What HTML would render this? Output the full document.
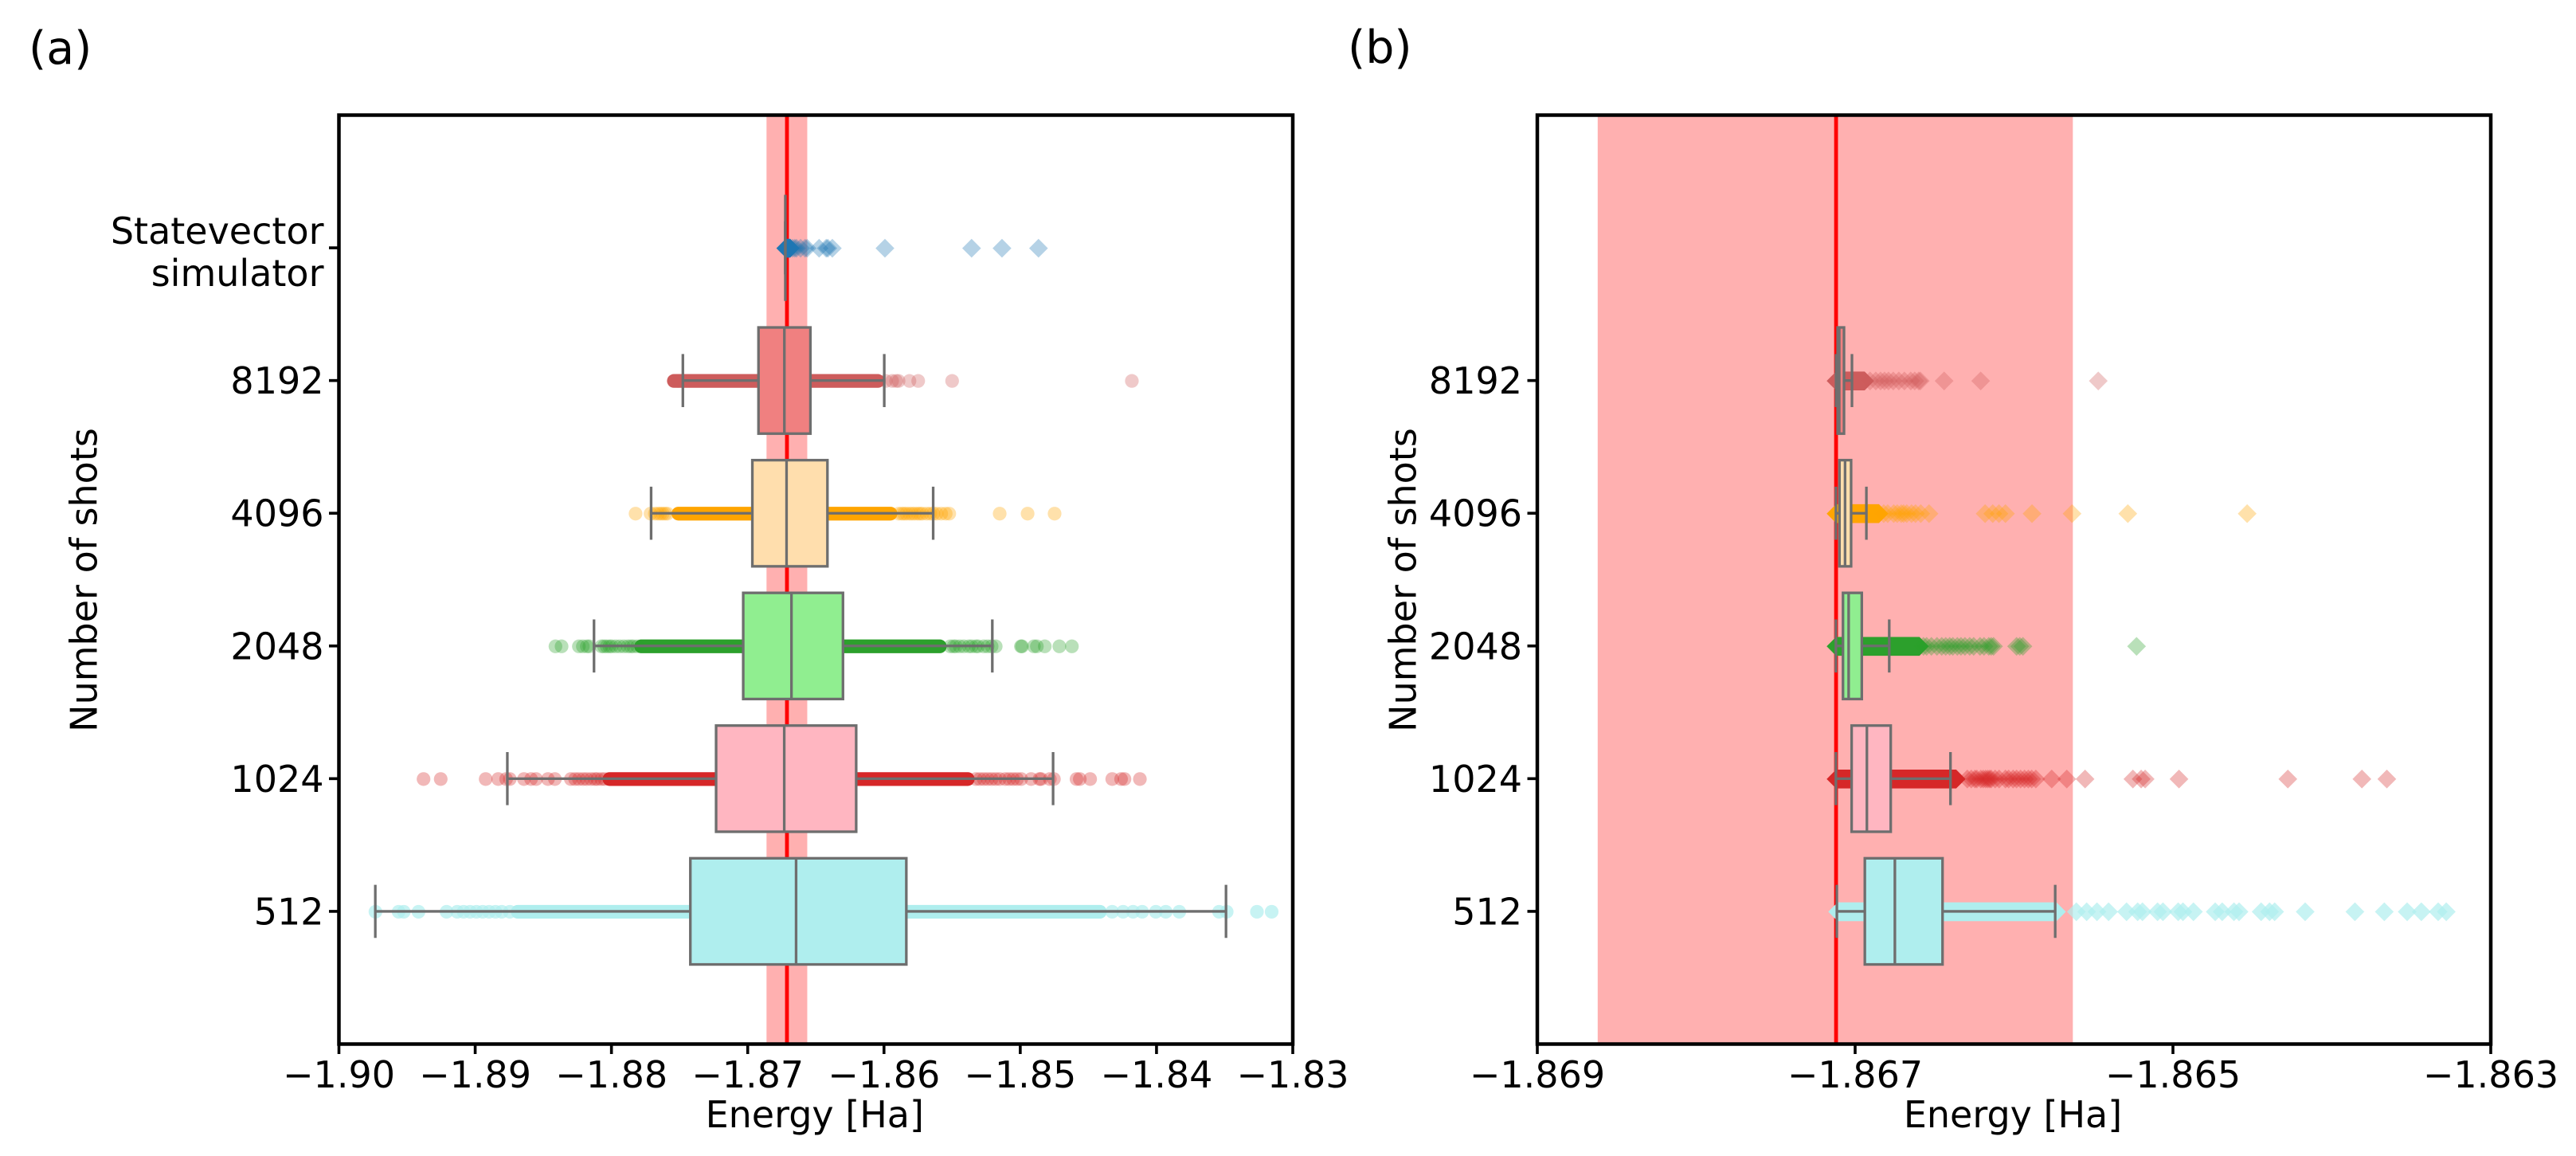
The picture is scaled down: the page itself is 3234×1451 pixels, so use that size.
<!DOCTYPE html>
<html lang="en">
<head>
<meta charset="utf-8">
<title>Energy distribution box plots</title>
<style>
  html, body { margin: 0; padding: 0; background: #ffffff; }
  svg { display: block; }
  text { font-family: "DejaVu Sans", "Liberation Sans", sans-serif; fill: #000000; }
</style>
</head>
<body>
<svg id="figure" xmlns="http://www.w3.org/2000/svg" width="3234" height="1451" viewBox="0 0 3234 1451">
  <rect x="0" y="0" width="3234" height="1451" fill="#ffffff"/>
  <text x="36" y="80" font-size="57">(a)</text>
  <text x="1692" y="79" font-size="57">(b)</text>
</svg>
<script>
// ---------- shared data ----------
const referenceEnergy = -1.86712;
const referenceBandLow = -1.86862;
const referenceBandHigh = -1.86563;
const shotNames = ["Statevector simulator", "8192", "4096", "2048", "1024", "512"];
const rowKeys = ["statevector", "8192", "4096", "2048", "1024", "512"];

// ---------- panel (a) data, Energy [Ha] ----------
const aTicks = [-1.90, -1.89, -1.88, -1.87, -1.86, -1.85, -1.84, -1.83];
const aRows = [0, 1, 2, 3, 4, 5];
const aQ1 = [-1.86724, -1.86921, -1.86966, -1.87033, -1.87232, -1.87421];
const aMedian = [-1.86724, -1.86731, -1.86715, -1.86679, -1.86732, -1.86645];
const aQ3 = [-1.86724, -1.86540, -1.86415, -1.86301, -1.86204, -1.85836];
const aWhiskerLow = [-1.86724, -1.87476, -1.87709, -1.88128, -1.88764, -1.89733];
const aWhiskerHigh = [-1.86724, -1.85998, -1.85639, -1.85205, -1.84759, -1.83490];
const aDenseLow = [-1.86721, -1.87542, -1.87509, -1.87782, -1.88015, -1.88688];
const aDenseHigh = [-1.86688, -1.86045, -1.85952, -1.85590, -1.85385, -1.84415];
const aOutliersStatevector = [-1.86671, -1.86655, -1.86642, -1.86612, -1.86579, -1.86564, -1.86476, -1.86424, -1.86412, -1.86379, -1.85993, -1.85357, -1.85134, -1.84866];
const aOutliers8192 = [-1.87510, -1.85987, -1.85940, -1.85911, -1.85893, -1.85813, -1.85749, -1.85500, -1.84181];
const aOutliers4096 = [-1.87823, -1.87713, -1.87682, -1.87659, -1.87641, -1.87624, -1.87606, -1.87589, -1.85893, -1.85870, -1.85853, -1.85835, -1.85813, -1.85794, -1.85775, -1.85753, -1.85736, -1.85718, -1.85687, -1.85660, -1.85638, -1.85613, -1.85580, -1.85547, -1.85521, -1.85151, -1.84946, -1.84748];
const aOutliers2048 = [-1.88411, -1.88366, -1.88239, -1.88210, -1.88181, -1.88162, -1.88074, -1.88055, -1.88035, -1.88015, -1.87998, -1.87969, -1.87940, -1.87910, -1.87881, -1.87859, -1.87840, -1.87811, -1.85514, -1.85490, -1.85473, -1.85444, -1.85414, -1.85378, -1.85356, -1.85326, -1.85309, -1.85268, -1.85239, -1.85210, -1.85180, -1.84995, -1.84987, -1.84900, -1.84878, -1.84820, -1.84713, -1.84621];
const aOutliers1024 = [-1.89379, -1.89253, -1.88923, -1.88831, -1.88773, -1.88746, -1.88642, -1.88590, -1.88553, -1.88466, -1.88415, -1.88298, -1.88267, -1.88239, -1.88208, -1.88181, -1.88150, -1.88122, -1.88103, -1.88074, -1.88050, -1.85326, -1.85297, -1.85268, -1.85239, -1.85210, -1.85180, -1.85151, -1.85110, -1.85081, -1.85052, -1.85023, -1.84993, -1.84920, -1.84859, -1.84847, -1.84783, -1.84753, -1.84587, -1.84563, -1.84487, -1.84325, -1.84260, -1.84235, -1.84122];
const aOutliers512 = [-1.89732, -1.89562, -1.89524, -1.89416, -1.89210, -1.89132, -1.89085, -1.89038, -1.88991, -1.88945, -1.88898, -1.88851, -1.88805, -1.88746, -1.84325, -1.84245, -1.84172, -1.84105, -1.84005, -1.83932, -1.83833, -1.83541, -1.83485, -1.83263, -1.83155];
const aOutliers = [aOutliersStatevector, aOutliers8192, aOutliers4096, aOutliers2048, aOutliers1024, aOutliers512];

// ---------- panel (b) data, Energy [Ha] ----------
const bTicks = [-1.869, -1.867, -1.865, -1.863];
const bRows = [1, 2, 3, 4, 5];
const bQ1 = [-1.86711, -1.8670985, -1.8670765, -1.867022, -1.866939];
const bMedian = [-1.86710, -1.8670635, -1.8670409, -1.866926, -1.86675];
const bQ3 = [-1.86707, -1.8670254, -1.8669582, -1.866776, -1.86645];
const bWhiskerLow = [-1.86712, -1.867121, -1.867121, -1.867121, -1.867115];
const bWhiskerHigh = [-1.86702, -1.8669292, -1.8667854, -1.8664, -1.865741];
const bDenseLow = [-1.86712, -1.86712, -1.86712, -1.86712, -1.86711];
const bDenseHigh = [-1.86694, -1.86685, -1.866595, -1.866364, -1.865733];
const bOutliers8192 = [-1.866906, -1.86687, -1.86684, -1.866815, -1.86679, -1.86676, -1.866725, -1.86669, -1.86665, -1.866625, -1.8666, -1.86659, -1.86644, -1.86621, -1.86547];
const bOutliers4096 = [-1.86682, -1.866795, -1.866757, -1.866735, -1.86671, -1.866695, -1.866675, -1.866645, -1.86662, -1.866587, -1.866535, -1.866182, -1.866134, -1.866095, -1.866054, -1.865887, -1.865635, -1.865284, -1.864533];
const bOutliers2048 = [-1.86657, -1.86655, -1.86652, -1.866485, -1.866455, -1.86643, -1.866405, -1.866385, -1.866357, -1.866334, -1.866309, -1.866279, -1.866254, -1.866214, -1.866189, -1.866159, -1.866144, -1.866129, -1.865984, -1.865964, -1.865944, -1.865229];
const bOutliers1024 = [-1.866294, -1.866269, -1.866246, -1.866234, -1.866209, -1.866194, -1.866179, -1.866166, -1.866154, -1.866144, -1.866119, -1.866094, -1.866054, -1.866034, -1.866006, -1.865984, -1.865959, -1.865934, -1.86591, -1.865889, -1.865863, -1.865763, -1.865668, -1.865553, -1.865252, -1.8652, -1.865175, -1.864962, -1.864277, -1.863811, -1.863654];
const bOutliers512 = [-1.865608, -1.865543, -1.865478, -1.865405, -1.865292, -1.865222, -1.865192, -1.865097, -1.865063, -1.864967, -1.864937, -1.864871, -1.864734, -1.86469, -1.864616, -1.864584, -1.864445, -1.864392, -1.86436, -1.864168, -1.863855, -1.86367, -1.863526, -1.863437, -1.863331, -1.86328];
const bOutliers = [bOutliers8192, bOutliers4096, bOutliers2048, bOutliers1024, bOutliers512];

// ---------- styles ----------
const boxFills = ["#1f77b4", "#f08080", "#ffdead", "#90ee90", "#ffb6c1", "#afeeee"];
const pointFills = ["#1f77b4", "#cd5c5c", "#ffa500", "#2ca02c", "#d62728", "#afeeee"];
const pointAlpha = [0.33, 0.33, 0.33, 0.33, 0.33, 0.7];
const GRAY = "#6e6e6e";
const LABEL_SIZE = 46;
const svg = document.getElementById("figure");
const SVGNS = "http://www.w3.org/2000/svg";

function make(parent, tag, attrs) {
  const el = document.createElementNS(SVGNS, tag);
  for (const k in attrs) el.setAttribute(k, attrs[k]);
  parent.appendChild(el);
  return el;
}
function minusText(v, digits) {
  return v.toFixed(digits).replace("-", "\u2212");
}

function drawPanel(p) {
  const g = make(svg, "g", {});
  
  

  const xScale = v => p.left + (v - p.xmin) / (p.xmax - p.xmin) * (p.right - p.left);
  const step = (p.bottom - p.top) / 7;
  const yScale = row => p.top + (row + 1) * step;

  // reference band and line
  const band = make(g, "rect", { x: xScale(referenceBandLow), y: p.top, width: xScale(referenceBandHigh) - xScale(referenceBandLow), height: p.bottom - p.top, fill: "#ffb0b0" });
  
  
  const refLine = make(g, "line", { x1: xScale(referenceEnergy), x2: xScale(referenceEnergy), y1: p.top, y2: p.bottom, stroke: "#ff0000", "stroke-width": 4.8 });
  
  

  // rows
  p.rows.forEach((row, i) => {
    const cy = yScale(row);
    const key = rowKeys[row];
    const diamond = p.diamonds || row === 0;
    const r = diamond ? 11.8 : 8.6;
    const ptY = cy + 0.5;

    const rowGroup = make(g, "g", {});
    
    

    // dense run of overlapping samples
    const dLo = xScale(p.denseLow[i]);
    const dHi = xScale(p.denseHigh[i]);
    let dense;
    if (diamond) {
      dense = make(rowGroup, "polygon", {
        points: [[dLo - r, ptY], [dLo, ptY - r], [dHi, ptY - r], [dHi + r, ptY], [dHi, ptY + r], [dLo, ptY + r]].map(a => a.join(",")).join(" "),
        fill: pointFills[row]
      });
    } else {
      dense = make(rowGroup, "rect", { x: dLo - r, y: ptY - r, width: dHi - dLo + 2 * r, height: 2 * r, rx: r, ry: r, fill: pointFills[row] });
    }
    
    

    // individual samples
    p.outliers[i].forEach(v => {
      const x = xScale(v);
      let mark;
      if (diamond) {
        mark = make(rowGroup, "polygon", {
          points: [[x - r, ptY], [x, ptY - r], [x + r, ptY], [x, ptY + r]].map(a => a.join(",")).join(" "),
          fill: pointFills[row], "fill-opacity": pointAlpha[row]
        });
      } else {
        mark = make(rowGroup, "circle", { cx: x, cy: ptY, r: r, fill: pointFills[row], "fill-opacity": pointAlpha[row] });
      }
      
      
    });

    // whiskers
    const halfBox = step * 0.4;
    const halfCap = step * 0.2;
    const xQ1 = xScale(p.q1[i]);
    const xQ3 = xScale(p.q3[i]);
    const xLo = xScale(p.whiskerLow[i]);
    const xHi = xScale(p.whiskerHigh[i]);
    const xMed = xScale(p.median[i]);

    const whiskLo = make(rowGroup, "line", { x1: xLo, x2: xQ1, y1: cy, y2: cy, stroke: GRAY, "stroke-width": 3.3 });
    
    
    const whiskHi = make(rowGroup, "line", { x1: xQ3, x2: xHi, y1: cy, y2: cy, stroke: GRAY, "stroke-width": 3.3 });
    
    
    const capLo = make(rowGroup, "line", { x1: xLo, x2: xLo, y1: cy - halfCap, y2: cy + halfCap, stroke: GRAY, "stroke-width": 3.3 });
    
    
    const capHi = make(rowGroup, "line", { x1: xHi, x2: xHi, y1: cy - halfCap, y2: cy + halfCap, stroke: GRAY, "stroke-width": 3.3 });
    
    

    // box + median
    const box = make(rowGroup, "rect", { x: xQ1, y: cy - halfBox, width: Math.max(xQ3 - xQ1, 0), height: 2 * halfBox, fill: boxFills[row], stroke: GRAY, "stroke-width": 3.3 });
    
    
    const med = make(rowGroup, "line", { x1: xMed, x2: xMed, y1: cy - halfBox, y2: cy + halfBox, stroke: GRAY, "stroke-width": 3.3 });
    
    
  });

  // frame
  const frame = make(g, "rect", { x: p.left, y: p.top, width: p.right - p.left, height: p.bottom - p.top, fill: "none", stroke: "#000000", "stroke-width": 4.5 });
  
  

  // x ticks
  p.xTicks.forEach(v => {
    const x = xScale(v);
    const t = make(g, "line", { x1: x, x2: x, y1: p.bottom, y2: p.bottom + 12.5, stroke: "#000000", "stroke-width": 3.6 });
    
    
    const lab = make(g, "text", { x: x, y: 1365, "text-anchor": "middle", "font-size": LABEL_SIZE });
    lab.textContent = minusText(v, p.tickDigits);
    
    
  });

  // y ticks
  p.rows.forEach(row => {
    const cy = yScale(row);
    const t = make(g, "line", { x1: p.left - 12.5, x2: p.left, y1: cy, y2: cy, stroke: "#000000", "stroke-width": 3.6 });
    
    
    const labelX = p.left - 19;
    if (row === 0) {
      const words = shotNames[0].split(" ");
      const l1 = make(g, "text", { x: labelX, y: 306, "text-anchor": "end", "font-size": LABEL_SIZE });
      l1.textContent = words[0];
      
      
      const l2 = make(g, "text", { x: labelX, y: 359, "text-anchor": "end", "font-size": LABEL_SIZE });
      l2.textContent = words[1];
      
      
    } else {
      const lab = make(g, "text", { x: labelX, y: cy + 16.5, "text-anchor": "end", "font-size": LABEL_SIZE });
      lab.textContent = shotNames[row];
      
      
    }
  });

  // axis titles
  const xTitle = make(g, "text", { x: (p.left + p.right) / 2 - 1.5, y: 1415, "text-anchor": "middle", "font-size": LABEL_SIZE });
  xTitle.textContent = "Energy [Ha]";
  
  
  const yTitle = make(g, "text", { x: p.yTitleX, y: 728, "text-anchor": "middle", "font-size": LABEL_SIZE, transform: "rotate(-90 " + p.yTitleX + " 728)" });
  yTitle.textContent = "Number of shots";
  
  
}

drawPanel({
  id: "panel-a", left: 425.5, right: 1623, top: 144.5, bottom: 1310.5,
  xmin: -1.90, xmax: -1.83, xTicks: aTicks, tickDigits: 2, rows: aRows, diamonds: false,
  q1: aQ1, median: aMedian, q3: aQ3, whiskerLow: aWhiskerLow, whiskerHigh: aWhiskerHigh,
  denseLow: aDenseLow, denseHigh: aDenseHigh, outliers: aOutliers, yTitleX: 121.5
});
drawPanel({
  id: "panel-b", left: 1930, right: 3127, top: 144.5, bottom: 1310.5,
  xmin: -1.869, xmax: -1.863, xTicks: bTicks, tickDigits: 3, rows: bRows, diamonds: true,
  q1: bQ1, median: bMedian, q3: bQ3, whiskerLow: bWhiskerLow, whiskerHigh: bWhiskerHigh,
  denseLow: bDenseLow, denseHigh: bDenseHigh, outliers: bOutliers, yTitleX: 1777.5
});
</script>
</body>
</html>
